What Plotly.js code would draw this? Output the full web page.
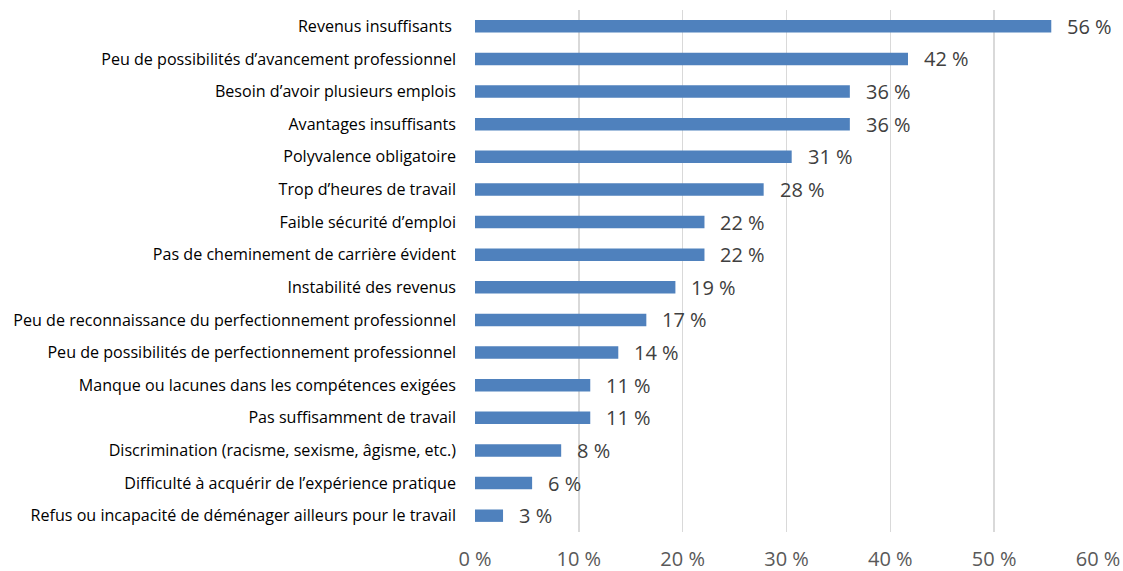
<!DOCTYPE html>
<html>
<head>
<meta charset="utf-8">
<script src="https://cdn.plot.ly/plotly-3.0.1.min.js"></script>
<style>
  html, body { margin: 0; padding: 0; background: #fff; }
  #chart { width: 1123px; height: 571px; }
</style>
</head>
<body>
<div id="chart"></div>
<script>
// top to bottom, as in the picture
const categories = [
  'Revenus insuffisants ',
  'Peu de possibilités d’avancement professionnel',
  'Besoin d’avoir plusieurs emplois',
  'Avantages insuffisants',
  'Polyvalence obligatoire',
  'Trop d’heures de travail',
  'Faible sécurité d’emploi',
  'Pas de cheminement de carrière évident',
  'Instabilité des revenus',
  'Peu de reconnaissance du perfectionnement professionnel',
  'Peu de possibilités de perfectionnement professionnel',
  'Manque ou lacunes dans les compétences exigées',
  'Pas suffisamment de travail',
  'Discrimination (racisme, sexisme, âgisme, etc.)',
  'Difficulté à acquérir de l’expérience pratique',
  'Refus ou incapacité de déménager ailleurs pour le travail'
];
const values = [55.5, 41.7, 36.1, 36.1, 30.5, 27.8, 22.1, 22.1, 19.3, 16.5, 13.8, 11.1, 11.1, 8.3, 5.5, 2.7];
const valueLabels = ['56 %', '42 %', '36 %', '36 %', '31 %', '28 %', '22 %', '22 %', '19 %', '17 %', '14 %', '11 %', '11 %', '8 %', '6 %', '3 %'];
const xTicks = [0, 10, 20, 30, 40, 50, 60];
const xTickText = ['0 %', '10 %', '20 %', '30 %', '40 %', '50 %', '60 %'];

const font = '"Open Sans", Lato, sans-serif';

const trace = {
  type: 'bar',
  orientation: 'h',
  x: values,
  y: categories,
  marker: { color: '#4f81bd' },
  hoverinfo: 'skip'
};

// value labels sit a bit to the right of each bar end
const annotations = values.map((v, i) => ({
  x: v,
  y: categories[i],
  text: valueLabels[i],
  showarrow: false,
  xanchor: 'left',
  xshift: 14,
  font: { family: font, size: 20, color: '#404040' }
}));

const layout = {
  width: 1123,
  height: 571,
  margin: { l: 475, r: 25, t: 10, b: 39, pad: 0 },
  paper_bgcolor: '#fff',
  plot_bgcolor: '#fff',
  showlegend: false,
  bargap: 0.62,
  xaxis: {
    range: [0, 60],
    tickvals: xTicks,
    ticktext: xTickText,
    showgrid: true,
    gridcolor: '#d9d9d9',
    gridwidth: 1.5,
    zeroline: false,
    showline: false,
    ticks: '',
    ticklabelstandoff: 13,
    tickfont: { family: font, size: 20, color: '#595959' }
  },
  yaxis: {
    autorange: 'reversed',
    type: 'category',
    showgrid: false,
    zeroline: false,
    showline: false,
    ticks: '',
    ticklabelstandoff: 18,
    tickfont: { family: font, size: 16.1, color: '#000' }
  },
  annotations: annotations
};

Plotly.newPlot('chart', [trace], layout, { displayModeBar: false, staticPlot: true });
</script>
</body>
</html>
